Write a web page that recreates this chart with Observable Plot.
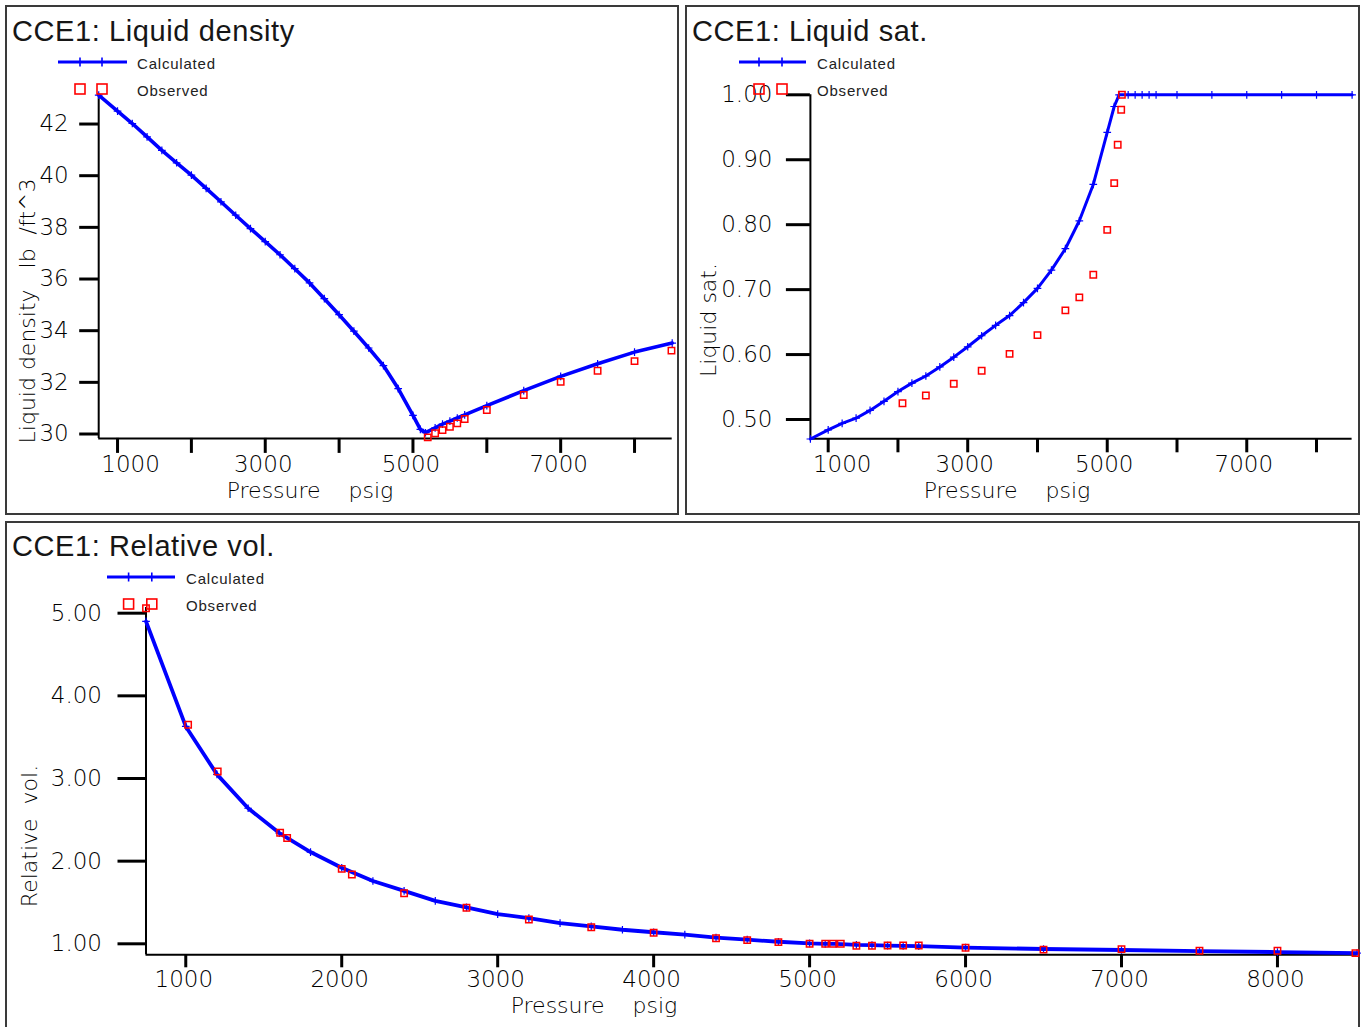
<!DOCTYPE html>
<html><head><meta charset="utf-8">
<script src="https://cdn.jsdelivr.net/npm/d3@7"></script>
<script src="https://cdn.jsdelivr.net/npm/@observablehq/plot@0.6"></script>
<style>
body{margin:0;background:#fff;}
#root{position:relative;width:1365px;height:1027px;overflow:hidden;background:#fff;}
.panel{position:absolute;border:2px solid #3a3a3a;box-sizing:border-box;}
.title{position:absolute;font-family:"Liberation Sans",Arial,sans-serif;font-size:29px;letter-spacing:0.6px;color:#161616;white-space:pre;line-height:1;}
.leg{position:absolute;font-family:"Liberation Sans",Arial,sans-serif;font-size:15px;letter-spacing:0.8px;color:#222;white-space:pre;line-height:1;}
.axl{position:absolute;font-family:"DejaVu Sans",sans-serif;font-weight:200;font-size:22px;color:#000;white-space:pre;line-height:1;transform:translate(-50%,-50%);}
.axl.rot{transform:translate(-50%,-50%) rotate(-90deg);}
.plotbox{position:absolute;}
.legsvg{position:absolute;left:0;top:0;overflow:visible;}
</style>
</head><body><div id="root"></div>
<script>
// ---------- DATA ----------
const pressureCalc = [745, 1000, 1200, 1400, 1600, 1800, 2000, 2200, 2400, 2600, 2800, 3000, 3200, 3400, 3600, 3800, 4000, 4200, 4400, 4600, 4800, 5000, 5100, 5170, 5300, 5400, 5500, 5600, 5700, 6000, 6500, 7000, 7500, 8000, 8510];
const densityCalc = [43.12, 42.50, 42.02, 41.50, 40.98, 40.50, 40.02, 39.51, 38.99, 38.47, 37.95, 37.45, 36.94, 36.40, 35.85, 35.24, 34.62, 33.98, 33.33, 32.65, 31.76, 30.72, 30.18, 30.05, 30.24, 30.38, 30.50, 30.62, 30.74, 31.10, 31.68, 32.23, 32.72, 33.17, 33.52];
const satCalc = [0.470, 0.484, 0.494, 0.502, 0.514, 0.528, 0.543, 0.556, 0.567, 0.581, 0.596, 0.612, 0.629, 0.645, 0.660, 0.680, 0.702, 0.730, 0.763, 0.806, 0.862, 0.942, 0.982, 1.0, 1.0, 1.0, 1.0, 1.0, 1.0, 1.0, 1.0, 1.0, 1.0, 1.0, 1.0];
const relVolCalc = [4.90, 3.63, 3.05, 2.64, 2.34, 2.11, 1.92, 1.76, 1.64, 1.52, 1.44, 1.36, 1.31, 1.25, 1.21, 1.17, 1.14, 1.11, 1.075, 1.05, 1.025, 1.005, 1.0, 1.0, 0.988, 0.983, 0.979, 0.975, 0.971, 0.955, 0.937, 0.925, 0.912, 0.900, 0.888];

const pressureObsDensity = [5200, 5300, 5400, 5500, 5600, 5700, 6000, 6500, 7000, 7500, 8000, 8500];
const densityObs = [29.87, 30.03, 30.15, 30.28, 30.41, 30.58, 30.93, 31.51, 32.02, 32.45, 32.82, 33.23];

const pressureObsSat = [2065, 2400, 2800, 3200, 3600, 4000, 4400, 4600, 4800, 5000, 5100, 5150, 5200, 5210];
const satObs = [0.525, 0.537, 0.555, 0.575, 0.601, 0.630, 0.668, 0.688, 0.723, 0.792, 0.864, 0.923, 0.977, 1.0];

const pressureObsRelVol = [745, 1015, 1205, 1605, 1650, 2000, 2065, 2400, 2800, 3200, 3600, 4000, 4400, 4600, 4800, 5000, 5100, 5150, 5200, 5300, 5400, 5500, 5600, 5700, 6000, 6500, 7000, 7500, 8000, 8500];
const relVolObs = [5.06, 3.65, 3.085, 2.343, 2.28, 1.907, 1.838, 1.612, 1.436, 1.294, 1.20, 1.133, 1.068, 1.044, 1.02, 1.00, 1.00, 1.00, 1.00, 0.976, 0.976, 0.98, 0.98, 0.98, 0.952, 0.93, 0.935, 0.916, 0.916, 0.887];

const pressureTicks = [1000, 2000, 3000, 4000, 5000, 6000, 7000, 8000];
const densityTicks = [30, 32, 34, 36, 38, 40, 42];
const satTicks = [0.5, 0.6, 0.7, 0.8, 0.9, 1.0];
const relVolTicks = [1, 2, 3, 4, 5];

const titles = ["CCE1: Liquid density", "CCE1: Liquid sat.", "CCE1: Relative vol."];
const yLabels = ["Liquid density   lb  /ft^3", "Liquid sat.", "Relative  vol."];
const xLabel = "Pressure    psig";
const legendLabels = ["Calculated", "Observed"];

// ---------- BUILD ----------
const root = document.getElementById("root");
const zip = (xs, ys) => xs.map((x, i) => ({p: x, v: ys[i]}));
const BLUE = "#0000ff", RED = "#ff0000";

function addDiv(cls, text, left, top) {
  const d = document.createElement("div");
  d.className = cls; d.textContent = text;
  d.style.left = left + "px"; d.style.top = top + "px";
  root.appendChild(d); return d;
}

function legend(lineX0, lineX1, plusXs, lineY, sqY, textX) {
  const ns = "http://www.w3.org/2000/svg";
  const svg = document.createElementNS(ns, "svg");
  svg.setAttribute("class", "legsvg");
  svg.setAttribute("width", 1365); svg.setAttribute("height", 1027);
  const mk = (tag, attrs) => { const e = document.createElementNS(ns, tag); for (const k in attrs) e.setAttribute(k, attrs[k]); svg.appendChild(e); };
  mk("line", {x1: lineX0, x2: lineX1, y1: lineY, y2: lineY, stroke: BLUE, "stroke-width": 3});
  plusXs.forEach(x => mk("line", {x1: x, x2: x, y1: lineY - 4.5, y2: lineY + 4.5, stroke: BLUE, "stroke-width": 1.6}));
  plusXs.forEach(x => mk("rect", {x: x - 5, y: sqY - 5, width: 10, height: 10, fill: "none", stroke: RED, "stroke-width": 1.6}));
  root.appendChild(svg);
  addDiv("leg", legendLabels[0], textX, lineY - 6.5);
  addDiv("leg", legendLabels[1], textX, sqY - 6.5);
}

function panelPlot(o) {
  const calc = zip(pressureCalc, o.calc);
  const obs = zip(o.obsP, o.obs);
  const marks = [
    Plot.ruleX([o.xDomain[0]], {stroke: "#000", strokeWidth: 2}),
    Plot.ruleY([o.yDomain[0]], {stroke: "#000", strokeWidth: 2}),
    Plot.axisY({ticks: o.yTicks, tickFormat: o.yFmt, tickSize: o.ySize, tickPadding: o.yPad, strokeWidth: 3, label: null}),
    Plot.axisX({ticks: pressureTicks, tickFormat: () => "", tickSize: o.xSize, strokeWidth: 3, label: null}),
    Plot.line(calc, {x: "p", y: "v", stroke: BLUE, strokeWidth: o.lineW}),
    Plot.dot(calc, {x: "p", y: "v", symbol: "plus", r: 2.6, stroke: BLUE, strokeWidth: 1.2}),
    Plot.dot(obs, {x: "p", y: "v", symbol: "square", r: 3.6, stroke: RED, strokeWidth: 1.5, fill: "none"})
  ];
  o.labelGroups.forEach(g => marks.push(
    Plot.axisX({ticks: g.ticks, tickSize: 0, tickPadding: o.xPad, tickFormat: d => String(d), dx: g.dx, label: null})
  ));
  const chart = Plot.plot({
    width: o.width, height: o.height,
    marginLeft: o.mL, marginRight: o.mR, marginTop: o.mT, marginBottom: o.mB,
    x: {domain: o.xDomain},
    y: {domain: o.yDomain},
    style: {fontFamily: "'DejaVu Sans', sans-serif", fontWeight: 200, fontSize: "23px", color: "#000", background: "transparent", overflow: "visible"},
    marks
  });
  const box = document.createElement("div");
  box.className = "plotbox";
  box.style.left = o.left + "px"; box.style.top = o.top + "px";
  box.appendChild(chart);
  root.appendChild(box);
}

// panel borders
[[5, 5, 674, 510], [685, 5, 675, 510], [5, 521, 1355, 520]].forEach(([l, t, w, h]) => {
  const d = document.createElement("div"); d.className = "panel";
  d.style.left = l + "px"; d.style.top = t + "px"; d.style.width = w + "px"; d.style.height = h + "px";
  root.appendChild(d);
});

// Panel 1: Liquid density
panelPlot({
  left: 5, top: 5, width: 674, height: 510,
  mL: 93.2, mR: 7.3, mT: 89.6, mB: 77.1,
  xDomain: [745, 8510], yDomain: [29.83, 43.12],
  yTicks: densityTicks, yFmt: d => String(d), ySize: 19, yPad: 11,
  xSize: 15, xPad: 17, lineW: 3.6,
  labelGroups: [{ticks: [1000], dx: 13}, {ticks: [3000, 5000, 7000], dx: -2}],
  calc: densityCalc, obsP: pressureObsDensity, obs: densityObs
});

// Panel 2: Liquid sat.
panelPlot({
  left: 685, top: 5, width: 674, height: 510,
  mL: 124.9, mR: 7.4, mT: 89.3, mB: 76.7,
  xDomain: [745, 8510], yDomain: [0.4703, 1.0],
  yTicks: satTicks, yFmt: d3.format(".2f"), ySize: 24, yPad: 14,
  xSize: 14, xPad: 17, lineW: 3,
  labelGroups: [{ticks: [1000], dx: 14}, {ticks: [3000, 5000, 7000], dx: -3}],
  calc: satCalc, obsP: pressureObsSat, obs: satObs
});

// Panel 3: Relative vol.
panelPlot({
  left: 5, top: 521, width: 1355, height: 506,
  mL: 140.5, mR: 3.5, mT: 85.9, mB: 72.7,
  xDomain: [745, 8510], yDomain: [0.867, 5.07],
  yTicks: relVolTicks, yFmt: d3.format(".2f"), ySize: 28, yPad: 16,
  xSize: 13, xPad: 15.5, lineW: 3.8,
  labelGroups: [{ticks: pressureTicks, dx: -2}],
  calc: relVolCalc, obsP: pressureObsRelVol, obs: relVolObs
});

// titles
addDiv("title", titles[0], 12, 16.5);
addDiv("title", titles[1], 692, 16.5);
addDiv("title", titles[2], 12, 532);

// legends
legend(58, 127, [80, 102], 62, 89, 137);
legend(739, 806, [759, 782], 62, 89, 817);
legend(107, 175, [128.6, 151.8], 577, 604, 186);

// axis labels
addDiv("axl", xLabel, 310, 491);
addDiv("axl", xLabel, 1007, 491);
addDiv("axl", xLabel, 594, 1006);
addDiv("axl rot", yLabels[0], 28, 311);
addDiv("axl rot", yLabels[1], 709, 320);
addDiv("axl rot", yLabels[2], 30, 836);
</script></body></html>
